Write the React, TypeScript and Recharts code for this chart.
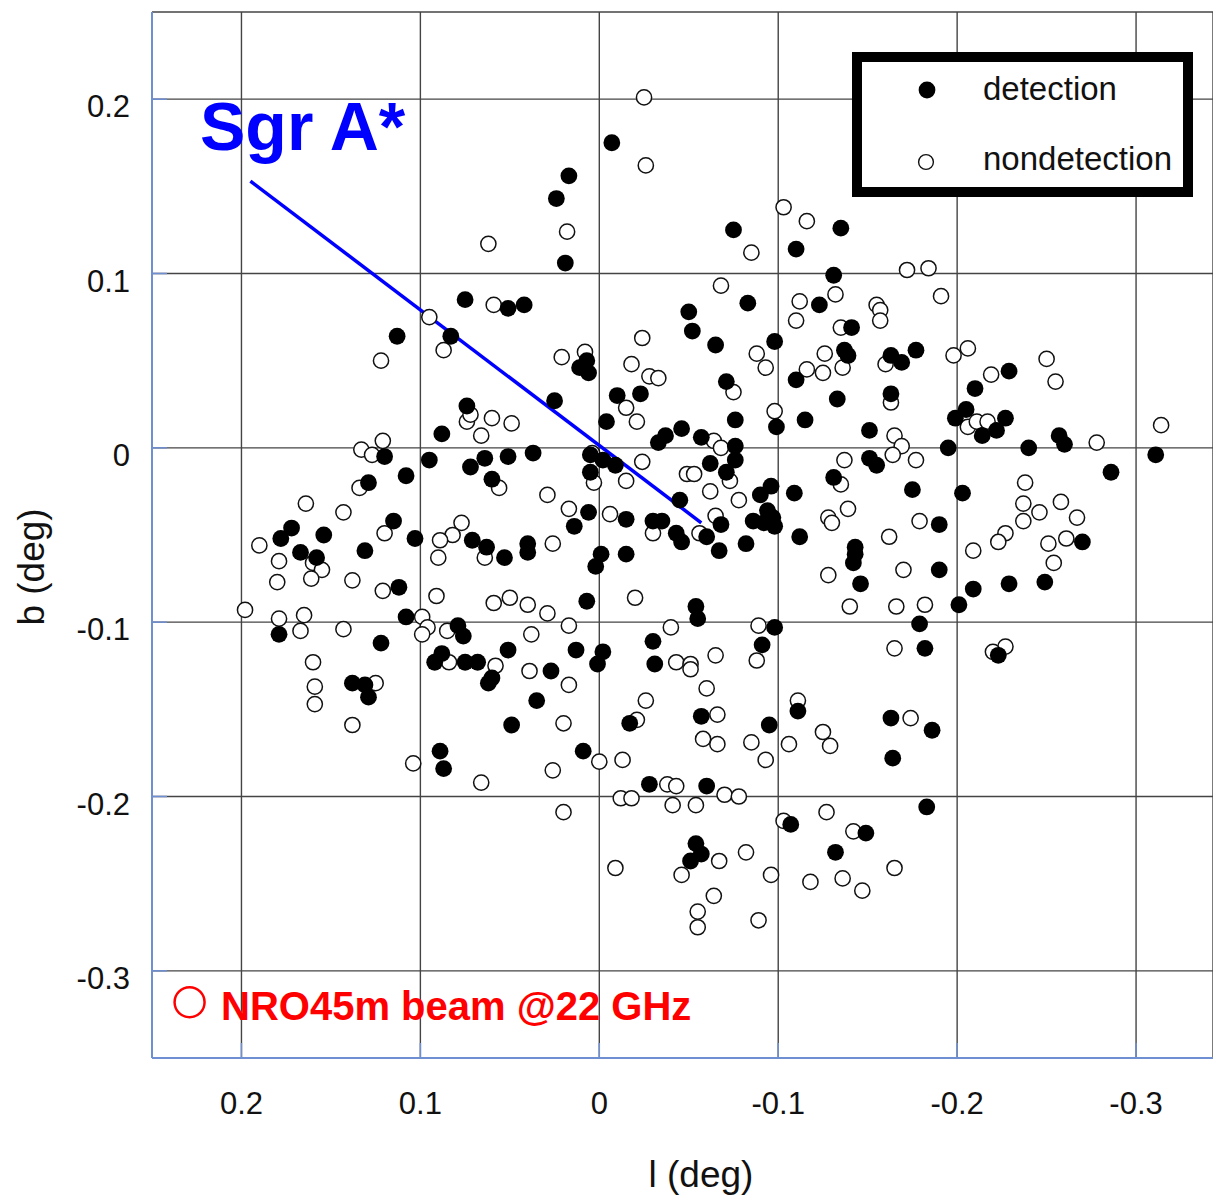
import { ScatterChart, Scatter, XAxis, YAxis, CartesianGrid, Legend, ReferenceLine, ReferenceDot } from 'recharts'

const FONT = "'Liberation Sans', Arial, Helvetica, sans-serif"
const FRAME = '#6f8fd3'

const xTicks = [0.2, 0.1, 0, -0.1, -0.2, -0.3]
const yTicks = [0.2, 0.1, 0, -0.1, -0.2, -0.3]
const legendLabels = ['detection', 'nondetection']

// [l, b] in degrees
const detections: [number, number][] = [
  [0.075, 0.085], [0.051, 0.080], [0.083, 0.064], [0.113, 0.064],
  [-0.007, 0.175], [0.017, 0.156], [0.024, 0.143], [0.019, 0.106], [0.042, 0.082],
  [-0.135, 0.126], [-0.075, 0.125], [-0.110, 0.114], [-0.131, 0.099], [-0.083, 0.083], [-0.123, 0.082],
  [-0.050, 0.078], [-0.052, 0.067], [-0.065, 0.059], [-0.098, 0.061], [-0.141, 0.069], [-0.137, 0.056],
  [-0.139, 0.053], [0.007, 0.050], [-0.163, 0.053], [-0.177, 0.056], [-0.169, 0.049],
  [-0.229, 0.044], [-0.210, 0.034], [-0.163, 0.031], [-0.199, 0.017], [-0.205, 0.022], [-0.214, 0.007],
  [-0.222, 0.010], [-0.227, 0.017], [-0.151, 0.010], [-0.195, 0.000], [-0.240, 0.000], [-0.257, 0.007],
  [-0.260, 0.002], [-0.311, -0.004], [-0.286, -0.014], [-0.151, -0.006], [-0.155, -0.010], [-0.175, -0.024],
  [-0.203, -0.026], [-0.190, -0.044], [-0.143, -0.057], [-0.143, -0.061], [-0.142, -0.066], [-0.190, -0.070],
  [-0.146, -0.078], [-0.229, -0.078], [-0.249, -0.077], [-0.209, -0.081], [-0.201, -0.090], [-0.179, -0.101],
  [-0.182, -0.115], [-0.223, -0.119], [-0.270, -0.054],
  [-0.163, -0.155], [-0.186, -0.162], [-0.164, -0.178], [-0.183, -0.206], [-0.149, -0.221],
  [0.035, -0.145], [0.049, -0.159], [0.009, -0.174], [-0.017, -0.158], [-0.057, -0.154], [-0.095, -0.159],
  [-0.111, -0.151], [-0.028, -0.193], [-0.060, -0.194], [-0.107, -0.216], [-0.132, -0.232], [-0.054, -0.227],
  [-0.057, -0.233], [-0.051, -0.237],
  [0.129, -0.143], [0.089, -0.174], [0.087, -0.184],
  [0.074, 0.024], [0.088, 0.008], [0.120, -0.005], [0.095, -0.007], [0.108, -0.016], [0.072, -0.011],
  [0.064, -0.006], [0.051, -0.005], [0.060, -0.018], [0.129, -0.020], [0.172, -0.046], [0.178, -0.052],
  [0.154, -0.050], [0.167, -0.060], [0.158, -0.063], [0.115, -0.042], [0.103, -0.052], [0.131, -0.059],
  [0.112, -0.080], [0.071, -0.053], [0.063, -0.057], [0.053, -0.063], [0.179, -0.107], [0.122, -0.112],
  [0.108, -0.097], [0.079, -0.102], [0.076, -0.108], [0.088, -0.118], [0.092, -0.123], [0.075, -0.123],
  [0.068, -0.123], [0.062, -0.135], [0.060, -0.132], [0.051, -0.116], [0.138, -0.135], [0.131, -0.136],
  [0.011, 0.046], [0.006, 0.043], [-0.071, 0.038], [-0.110, 0.039], [-0.133, 0.028], [-0.010, 0.030],
  [-0.023, 0.031], [0.025, 0.027], [-0.004, 0.015], [-0.046, 0.011], [-0.037, 0.007], [-0.033, 0.003],
  [-0.057, 0.006], [-0.076, 0.016], [-0.099, 0.012], [-0.115, 0.016], [-0.076, 0.001], [-0.076, -0.007],
  [-0.062, -0.009], [-0.071, -0.014], [-0.045, -0.030], [-0.068, -0.044], [-0.060, -0.051], [-0.067, -0.059],
  [-0.043, -0.049], [-0.046, -0.054], [-0.030, -0.042], [-0.035, -0.042], [-0.015, -0.041], [-0.082, -0.055],
  [-0.090, -0.027], [-0.096, -0.022], [-0.094, -0.036], [-0.097, -0.040], [-0.086, -0.042], [-0.092, -0.043],
  [-0.098, -0.045], [-0.109, -0.026], [-0.112, -0.051], [-0.131, -0.017], [0.005, -0.004], [-0.002, -0.007],
  [-0.009, -0.010], [0.005, -0.014], [0.037, -0.003], [0.006, -0.037], [0.014, -0.045], [0.040, -0.055],
  [0.040, -0.060], [-0.001, -0.061], [0.002, -0.068], [-0.015, -0.061], [0.007, -0.088], [0.013, -0.116],
  [-0.002, -0.117], [0.001, -0.124], [0.027, -0.128], [-0.030, -0.111], [-0.031, -0.124], [-0.054, -0.091],
  [-0.055, -0.098], [-0.098, -0.103], [-0.091, -0.113],
]

const nondetections: [number, number][] = [
  [0.062, 0.117], [0.059, 0.082], [0.095, 0.075], [0.087, 0.056], [0.122, 0.050],
  [-0.025, 0.201], [-0.026, 0.162], [0.018, 0.124], [-0.103, 0.138], [-0.116, 0.130], [-0.085, 0.112],
  [-0.132, 0.088], [-0.068, 0.093], [-0.112, 0.084], [-0.110, 0.073], [-0.135, 0.069], [-0.126, 0.054],
  [-0.024, 0.063], [-0.088, 0.054], [0.021, 0.052], [0.008, 0.055], [-0.018, 0.048],
  [-0.172, 0.102], [-0.184, 0.103], [-0.191, 0.087], [-0.155, 0.082], [-0.157, 0.079], [-0.157, 0.073],
  [-0.206, 0.057], [-0.198, 0.053], [-0.250, 0.051],
  [-0.160, 0.048], [-0.255, 0.038], [-0.219, 0.042], [-0.163, 0.026], [-0.206, 0.012], [-0.211, 0.015],
  [-0.217, 0.015], [-0.165, 0.007], [-0.169, 0.001], [-0.164, -0.004], [-0.278, 0.003], [-0.314, 0.013],
  [-0.177, -0.007], [-0.238, -0.020], [-0.237, -0.032], [-0.246, -0.037], [-0.237, -0.042], [-0.258, -0.031],
  [-0.267, -0.040], [-0.179, -0.042], [-0.162, -0.051], [-0.227, -0.049], [-0.223, -0.054], [-0.209, -0.059],
  [-0.251, -0.055], [-0.261, -0.052], [-0.254, -0.066], [-0.170, -0.070], [-0.166, -0.091], [-0.182, -0.090],
  [-0.165, -0.115], [-0.227, -0.114], [-0.220, -0.117], [-0.140, -0.091], [-0.139, -0.035],
  [-0.174, -0.155], [-0.142, -0.220], [-0.165, -0.241], [-0.147, -0.254],
  [0.020, -0.158], [0.026, -0.185], [0.020, -0.209], [0.000, -0.180], [-0.013, -0.179], [-0.021, -0.156],
  [-0.026, -0.145], [-0.066, -0.153], [-0.058, -0.167], [-0.066, -0.170], [-0.085, -0.169], [-0.093, -0.179],
  [-0.111, -0.145], [-0.106, -0.170], [-0.125, -0.163], [-0.129, -0.171], [-0.038, -0.193], [-0.043, -0.194],
  [-0.012, -0.201], [-0.018, -0.201], [-0.041, -0.205], [-0.054, -0.205], [-0.070, -0.199], [-0.078, -0.200],
  [-0.103, -0.214], [-0.127, -0.209], [-0.067, -0.237], [-0.082, -0.232], [-0.096, -0.245], [-0.046, -0.245],
  [-0.009, -0.241], [-0.064, -0.257], [-0.055, -0.266], [-0.055, -0.275], [-0.089, -0.271], [-0.118, -0.249],
  [-0.136, -0.247],
  [0.159, -0.147], [0.138, -0.159], [0.104, -0.181], [0.066, -0.192],
  [0.074, 0.015], [0.072, 0.019], [0.060, 0.017], [0.049, 0.014], [0.066, 0.007], [0.121, 0.004],
  [0.133, -0.001], [0.127, -0.004], [0.056, -0.023], [0.134, -0.023], [0.164, -0.032], [0.143, -0.037],
  [0.190, -0.056], [0.179, -0.065], [0.160, -0.066], [0.155, -0.070], [0.161, -0.075], [0.180, -0.077],
  [0.120, -0.049], [0.138, -0.076], [0.121, -0.082], [0.077, -0.043], [0.082, -0.050], [0.089, -0.053],
  [0.090, -0.063], [0.064, -0.063], [0.091, -0.085], [0.059, -0.089], [0.050, -0.086], [0.198, -0.093],
  [0.179, -0.098], [0.165, -0.096], [0.167, -0.105], [0.143, -0.104], [0.099, -0.097], [0.096, -0.103],
  [0.099, -0.107], [0.085, -0.105], [0.084, -0.123], [0.058, -0.125], [0.160, -0.123], [0.159, -0.137],
  [0.125, -0.135],
  [-0.028, 0.041], [-0.033, 0.040], [-0.093, 0.046], [-0.075, 0.032], [-0.116, 0.045], [-0.125, 0.043],
  [-0.136, 0.046], [-0.015, 0.023], [-0.021, 0.015], [-0.064, 0.004], [-0.068, 0.000], [-0.098, 0.021],
  [-0.073, -0.019], [-0.049, -0.015], [-0.053, -0.015], [-0.062, -0.025], [-0.078, -0.030], [-0.065, -0.039],
  [-0.056, -0.049], [-0.030, -0.049], [-0.006, -0.038], [-0.137, -0.007], [-0.135, -0.021], [-0.128, -0.040],
  [-0.130, -0.043], [-0.128, -0.073], [0.004, -0.003], [0.003, -0.020], [-0.024, -0.008], [-0.015, -0.019],
  [0.029, -0.027], [0.017, -0.035], [0.026, -0.055], [-0.020, -0.086], [0.040, -0.090], [0.029, -0.095],
  [0.017, -0.102], [0.038, -0.107], [0.039, -0.128], [0.017, -0.136], [-0.040, -0.103], [-0.043, -0.123],
  [-0.051, -0.124], [-0.051, -0.127], [-0.065, -0.119], [-0.060, -0.138], [-0.089, -0.102], [-0.088, -0.122],
]

// pointer from the Sgr A* label, and the beam marker
const sgrAPointer: [number, number][] = [[0.195, 0.153], [-0.057, -0.043]]
const beamCenter: [number, number] = [0.229, -0.318]

const toPoints = (arr: [number, number][]) => arr.map(([l, b]) => ({ l, b }))

const FilledDot = (p: any) => <circle cx={p.cx} cy={p.cy} r={8.4} fill="#000" />
const OpenDot = (p: any) => <circle cx={p.cx} cy={p.cy} r={7.6} fill="#fff" stroke="#111" strokeWidth={1.5} />

const fmt = (v: number) => String(v)

const XTick = ({ x, y, payload }: any) => (
  <text x={x} y={y + 71} textAnchor="middle" fontSize={31} fontFamily={FONT} fill="#111">{fmt(payload.value)}</text>
)
const YTick = ({ x, y, payload }: any) => (
  <text x={x - 37} y={y + 18} textAnchor="end" fontSize={31} fontFamily={FONT} fill="#111">{fmt(payload.value)}</text>
)
const NoTick = () => null

function LegendBox() {
  return (
    <svg width={341} height={145} style={{ display: 'block' }}>
      <rect x={5} y={5} width={331} height={135} fill="#fff" stroke="#000" strokeWidth={10} />
      <circle cx={75} cy={38} r={8.4} fill="#000" />
      <circle cx={74} cy={110} r={7.4} fill="#fff" stroke="#111" strokeWidth={1.4} />
      {legendLabels.map((label, i) => (
        <text key={label} x={131} y={48 + i * 70} fontSize={33} fontFamily={FONT} fill="#111">{label}</text>
      ))}
    </svg>
  )
}

export default function App() {
  return (
    <div style={{ position: 'relative', width: 1213, height: 1197 }}>
      <style>{'body { margin: 0; }'}</style>
      <ScatterChart width={1213} height={1197} margin={{ top: 12, right: 0, bottom: 0, left: 0 }}>
        <CartesianGrid stroke="#444" strokeWidth={1.4} />
        <XAxis
          type="number"
          dataKey="l"
          domain={[-0.343, 0.25]}
          reversed
          allowDataOverflow
          ticks={xTicks}
          interval={0}
          height={139}
          axisLine={{ stroke: FRAME, strokeWidth: 2 }}
          tickLine={{ stroke: FRAME, strokeWidth: 1.5 }}
          tickSize={-15}
          tickMargin={0}
          tick={XTick}
        />
        <XAxis
          xAxisId="top"
          orientation="top"
          type="number"
          domain={[-0.343, 0.25]}
          reversed
          allowDataOverflow
          ticks={xTicks}
          interval={0}
          height={0}
          axisLine={{ stroke: FRAME, strokeWidth: 2 }}
          tickLine={{ stroke: FRAME, strokeWidth: 1.5 }}
          tickSize={-15}
          tick={NoTick}
        />
        <YAxis
          type="number"
          dataKey="b"
          domain={[-0.35, 0.25]}
          allowDataOverflow
          ticks={yTicks}
          interval={0}
          width={152}
          axisLine={{ stroke: FRAME, strokeWidth: 2 }}
          tickLine={{ stroke: FRAME, strokeWidth: 1.5 }}
          tickSize={-15}
          tickMargin={0}
          tick={YTick}
        />
        <YAxis
          yAxisId="right"
          orientation="right"
          type="number"
          domain={[-0.35, 0.25]}
          allowDataOverflow
          ticks={yTicks}
          interval={0}
          width={0}
          axisLine={{ stroke: FRAME, strokeWidth: 2 }}
          tickLine={{ stroke: FRAME, strokeWidth: 1.5 }}
          tickSize={-15}
          tick={NoTick}
        />
        <Scatter name="nondetection" data={toPoints(nondetections)} shape={OpenDot} isAnimationActive={false} />
        <Scatter name="detection" data={toPoints(detections)} shape={FilledDot} isAnimationActive={false} />
        <ReferenceLine
          segment={sgrAPointer.map(([l, b]) => ({ x: l, y: b }))}
          stroke="#0000ff"
          strokeWidth={3.5}
          ifOverflow="visible"
        />
        <ReferenceDot
          x={beamCenter[0]}
          y={beamCenter[1]}
          r={15}
          fill="none"
          stroke="#ff0000"
          strokeWidth={2.5}
          ifOverflow="visible"
        />
        <Legend
          layout="vertical"
          align="center"
          verticalAlign="middle"
          wrapperStyle={{ top: 52, left: 852, width: 341, height: 145 }}
          content={LegendBox}
        />
      </ScatterChart>
      <svg width={1213} height={1197} style={{ position: 'absolute', left: 0, top: 0, pointerEvents: 'none' }}>
        <text x={200} y={150} fontSize={68} fontWeight="bold" fontFamily={FONT} fill="#0000ff">Sgr A*</text>
        <text x={221} y={1020} fontSize={40} fontWeight="bold" fontFamily={FONT} fill="#ff0000">NRO45m beam @22 GHz</text>
        <text x={701} y={1187} fontSize={37} textAnchor="middle" fontFamily={FONT} fill="#111">l (deg)</text>
        <text transform="translate(44, 567) rotate(-90)" fontSize={37} textAnchor="middle" fontFamily={FONT} fill="#111">b (deg)</text>
      </svg>
    </div>
  )
}
